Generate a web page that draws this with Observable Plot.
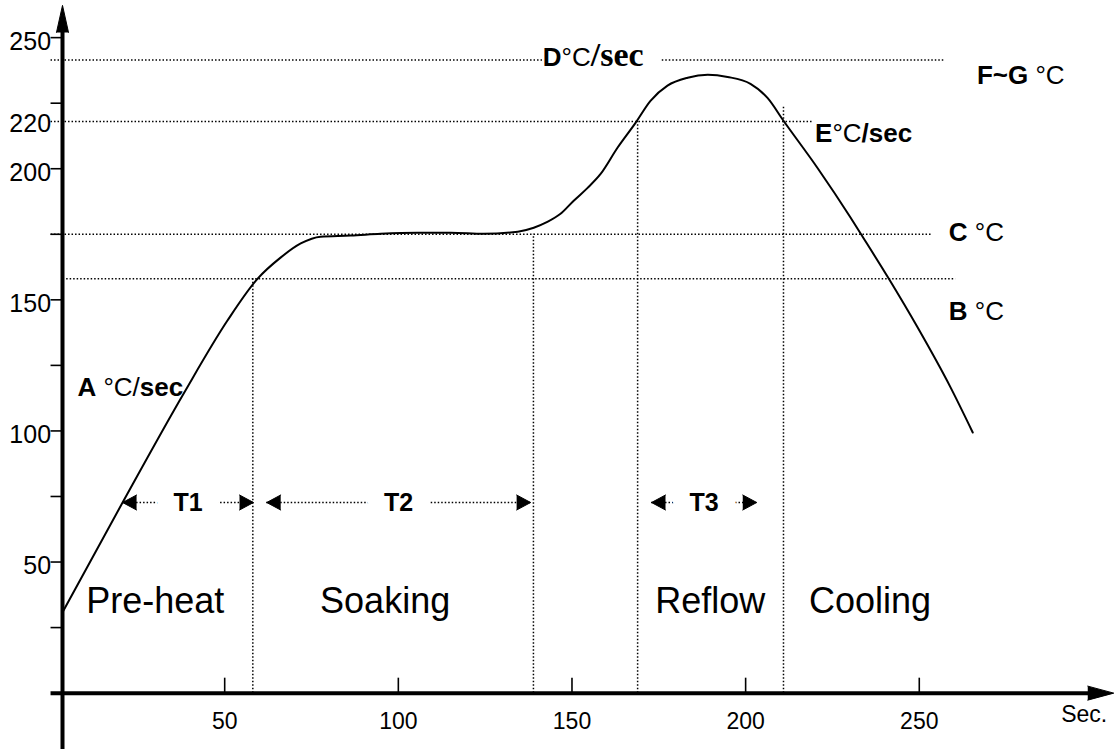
<!DOCTYPE html>
<html><head><meta charset="utf-8">
<script src="https://cdn.jsdelivr.net/npm/d3@7"></script>
<script src="https://cdn.jsdelivr.net/npm/@observablehq/plot@0.6"></script>
<style>body{margin:0;background:#fff}svg{display:block}</style>
</head><body><div id="chart"></div>
<script>
// Reflow temperature profile (time in seconds, temperature in °C)
const curveTime = [3.3, 20.6, 38.2, 50.8, 59.5, 66.0, 71.9, 77.6, 86.3, 94.9, 105.6, 115.1, 124.6, 134.4, 139.0, 142.9, 146.7, 150.5, 154.5, 158.3, 163.1, 168.3, 172.6, 177.5, 183.3, 189.1, 194.8, 201.4, 206.3, 210.9, 220.7, 230.2, 233.1, 241.2, 249.5, 259.0, 265.4];
const curveTemp = [30.8, 72.7, 114.3, 142.1, 158.1, 166.0, 171.5, 174.1, 174.5, 175.2, 175.6, 175.6, 175.2, 176.0, 177.5, 179.7, 182.8, 187.8, 192.7, 198.1, 208.0, 217.5, 225.9, 231.7, 234.7, 235.8, 235.0, 232.4, 227.0, 218.3, 200.3, 181.4, 175.3, 158.1, 139.5, 116.6, 99.4];

const xTickValues = [50, 100, 150, 200, 250];
const yTickValues = [25, 50, 75, 100, 125, 150, 175, 200, 225, 250];
const yLabelValues = [50, 100, 150, 200, 250];

// dotted guide levels (°C) and their extents (s)
const guideTemp = [241.5, 241.5, 218, 175, 158];
const guideFrom = [0, 176, 0, 0, 4.5];
const guideTo = [141.6, 257.6, 219.3, 253.9, 260.5];
const level220Label = "220";

// phase boundaries
const phaseEdges = [58.1, 138.9, 168.9, 210.9];
const phaseEdgeTops = [158, 175, 218, 223.5];
const phaseNames = ["Pre-heat", "Soaking", "Reflow", "Cooling"];
const phaseCenters = [30.0, 96.2, 189.8, 235.8];
const phaseLabelTemp = 35;

// interval arrows
const intervalNames = ["T1", "T2", "T3"];
const intervalStart = [20.6, 62.1, 172.9];
const intervalEnd = [58.3, 138.1, 203.2];
const intervalTemp = 72.7;

// annotation labels
const annotText = ["A °C/sec", "D°C/sec", "F~G °C", "E°C/sec", "C °C", "B °C"];
const annotTime = [7.6, 141.6, 266.6, 220.0, 258.5, 258.5];
const annotTemp = [116.6, 242.4, 235.5, 213.4, 175.6, 145.6];

const axisX = 3.3;
const xUnit = "Sec.";

const profile = curveTime.map((t, i) => ({t, v: curveTemp[i]}));
const guides = guideTemp.map((v, i) => ({v, x1: guideFrom[i], x2: guideTo[i]}));
const edges = phaseEdges.map((x, i) => ({x, top: phaseEdgeTops[i]}));
const phases = phaseNames.map((name, i) => ({name, x: phaseCenters[i]}));
const intervals = intervalNames.map((name, i) => ({name, a: intervalStart[i], b: intervalEnd[i], c: (intervalStart[i] + intervalEnd[i]) / 2}));
const annots = annotText.map((text, i) => ({text, x: annotTime[i], y: annotTemp[i]}));

const FONT = "'Liberation Sans', Arial, Helvetica, sans-serif";
const SERIF = "'Liberation Serif', 'Times New Roman', 'DejaVu Serif', Times, serif";
const dots = {stroke: "black", strokeWidth: 1.5, strokeDasharray: "1.5,2"};
const spike = {shape: "spike", anchor: "end", fill: "black", stroke: "black", strokeWidth: 1};

const svg = Plot.plot({
  width: 1115,
  height: 749,
  marginLeft: 62,
  marginRight: 0,
  marginTop: 2,
  marginBottom: 0,
  style: {fontFamily: FONT, color: "black", background: "white"},
  x: {domain: [axisX, 306.5], axis: null},
  y: {domain: [-21.5, 263.4], axis: null},
  marks: [
    // dotted guides
    Plot.ruleY(guides, {y: "v", x1: "x1", x2: "x2", ...dots}),
    Plot.ruleX(edges, {x: "x", y1: 0, y2: "top", ...dots}),
    // interval shafts
    Plot.ruleY(intervals, {y: intervalTemp, x1: "a", x2: "b", ...dots}),
    Plot.text(intervals, {x: "c", y: intervalTemp, text: "name", fontSize: 25, fontWeight: "bold", fill: "black", stroke: "white", strokeWidth: 36, paintOrder: "stroke"}),
    Plot.vector(intervals, {x: "a", y: intervalTemp, rotate: -90, length: 14, r: 7.5, ...spike}),
    Plot.vector(intervals, {x: "b", y: intervalTemp, rotate: 90, length: 14, r: 7.5, ...spike}),
    // axes
    Plot.ruleY([0], {x1: 0, x2: 300, stroke: "black", strokeWidth: 4}),
    Plot.ruleX([axisX], {y1: -21.5, y2: 252, stroke: "black", strokeWidth: 4}),
    Plot.vector([0], {x: 306, y: 0, rotate: 90, length: 26, r: 7, ...spike}),
    Plot.vector([0], {x: axisX, y: 262.3, rotate: 0, length: 27, r: 6, ...spike}),
    Plot.ruleY(yTickValues, {y: d => d, x1: 0, x2: axisX, stroke: "black", strokeWidth: 1.6}),
    Plot.ruleX(xTickValues, {x: d => d, y1: 0, y2: 5.7, stroke: "black", strokeWidth: 1.6}),
    Plot.text(yLabelValues, {x: 0, y: d => d, text: d => String(d), textAnchor: "end", dy: 4, fontSize: 25, fill: "black"}),
    Plot.text([level220Label], {x: 0, y: guideTemp[2], text: d => d, textAnchor: "end", dy: 2, fontSize: 25, fill: "black"}),
    Plot.text(xTickValues, {x: d => d, y: 0, text: d => String(d), dy: 28, fontSize: 23, fill: "black"}),
    Plot.text([xUnit], {x: 297.5, y: 0, text: d => d, dy: 21, fontSize: 23, fill: "black"}),
    // phase labels
    Plot.text(phases, {x: "x", y: phaseLabelTemp, text: "name", fontSize: 36, fill: "black"}),
    // annotations
    Plot.text(annots, {x: "x", y: "y", text: "text", textAnchor: "start", fontSize: 26, fill: "black"}),
    // profile curve
    Plot.line(profile, {x: "t", y: "v", curve: "monotone-x", stroke: "black", strokeWidth: 2})
  ]
});

document.getElementById("chart").appendChild(svg);

// mixed bold / regular runs inside the annotation labels
d3.select(svg).selectAll("text").each(function () {
  const s = this.textContent;
  if (!annotText.includes(s)) return;
  const m = s.match(/^([A-G](?:~[A-G])?)(.*?)(\/?sec)?$/);
  if (!m) return;
  const t = d3.select(this);
  let mid = m[2], tail = m[3];
  if (s[0] === "A" && tail) { mid += "/"; tail = "sec"; }
  t.style("white-space", "pre");
  t.text(null);
  t.append("tspan").style("font-weight", "bold").text(m[1]);
  t.append("tspan").text(mid);
  if (tail) {
    const sp = t.append("tspan").style("font-weight", "bold").text(tail);
    if (s[0] === "D") sp.style("font-family", SERIF).style("font-size", "34px");
  }
});
</script>
</body></html>
